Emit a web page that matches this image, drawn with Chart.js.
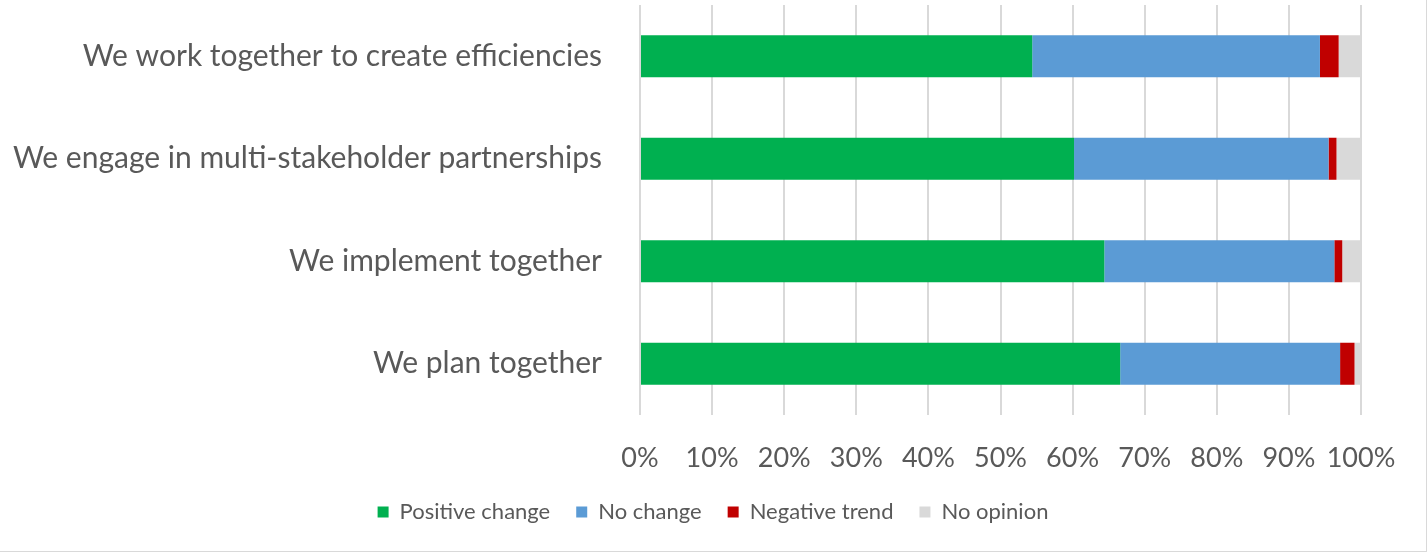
<!DOCTYPE html>
<html>
<head>
<meta charset="utf-8">
<script src="https://cdn.jsdelivr.net/npm/chart.js@4.4.1/dist/chart.umd.min.js"></script>
<style>
  html, body { margin: 0; padding: 0; background: #fff; }
  #wrap { width: 1426px; height: 551px; border-right: 1px solid #d9d9d9; border-bottom: 1px solid #d9d9d9; }
</style>
</head>
<body>
<div id="wrap"><canvas id="chart"></canvas></div>
<script>
// categories, top to bottom
const categories = [
  'We work together to create efficiencies',
  'We engage in multi-stakeholder partnerships',
  'We implement together',
  'We plan together'
];

// shares in percent
const positiveChange = [54.4, 60.2, 64.4, 66.6];
const noChange = [39.9, 35.3, 31.9, 30.5];
const negativeTrend = [2.6, 1.1, 1.1, 2.0];
const noOpinion = [3.1, 3.4, 2.6, 0.9];

const xTicks = [0, 10, 20, 30, 40, 50, 60, 70, 80, 90, 100];

const FONT = 'Lato, "Open Sans", sans-serif';
const TEXT = '#595959';

const makeSet = (label, data, color) => ({
  label: label,
  data: data,
  backgroundColor: color,
  borderWidth: 0,
  categoryPercentage: 1,
  barPercentage: 0.41
});

// legend is centred on the whole canvas, not on the padded area
const centerLegend = {
  id: 'centerLegend',
  afterLayout: (chart) => {
    const lg = chart.legend;
    lg.left = 0;
    lg.right = chart.width;
    lg.width = chart.width;
  }
};

new Chart(document.getElementById('chart'), {
  type: 'bar',
  data: {
    labels: categories,
    datasets: [
      makeSet('Positive change', positiveChange, '#00B050'),
      makeSet('No change', noChange, '#5B9BD5'),
      makeSet('Negative trend', negativeTrend, '#C00000'),
      makeSet('No opinion', noOpinion, '#D9D9D9')
    ]
  },
  plugins: [centerLegend],
  options: {
    indexAxis: 'y',
    responsive: true,
    maintainAspectRatio: false,
    animation: false,
    layout: { padding: { top: 5, right: 65, left: 0, bottom: 18 } },
    plugins: {
      tooltip: { enabled: false },
      legend: {
        position: 'bottom',
        labels: {
          font: { family: FONT, size: 22 },
          color: TEXT,
          boxWidth: 11,
          boxHeight: 11,
          padding: 26
        }
      }
    },
    scales: {
      x: {
        stacked: true,
        min: 0,
        max: 100,
        afterBuildTicks: (scale) => {
          scale.ticks = xTicks.map(v => ({ value: v }));
        },
        afterFit: (scale) => { scale.height = 60; },
        border: { display: false },
        grid: { color: '#d9d9d9', lineWidth: 2, drawTicks: false },
        ticks: {
          font: { family: FONT, size: 27 },
          color: TEXT,
          padding: 27,
          maxRotation: 0,
          callback: (v) => v + '%'
        }
      },
      y: {
        stacked: true,
        border: { display: false },
        grid: { display: false },
        afterFit: (scale) => {
          scale.width = 640;
          scale.paddingTop = 0;
          scale.paddingBottom = 0;
        },
        ticks: {
          font: { family: FONT, size: 30 },
          color: TEXT,
          padding: 30
        }
      }
    }
  }
});
</script>
</body>
</html>
